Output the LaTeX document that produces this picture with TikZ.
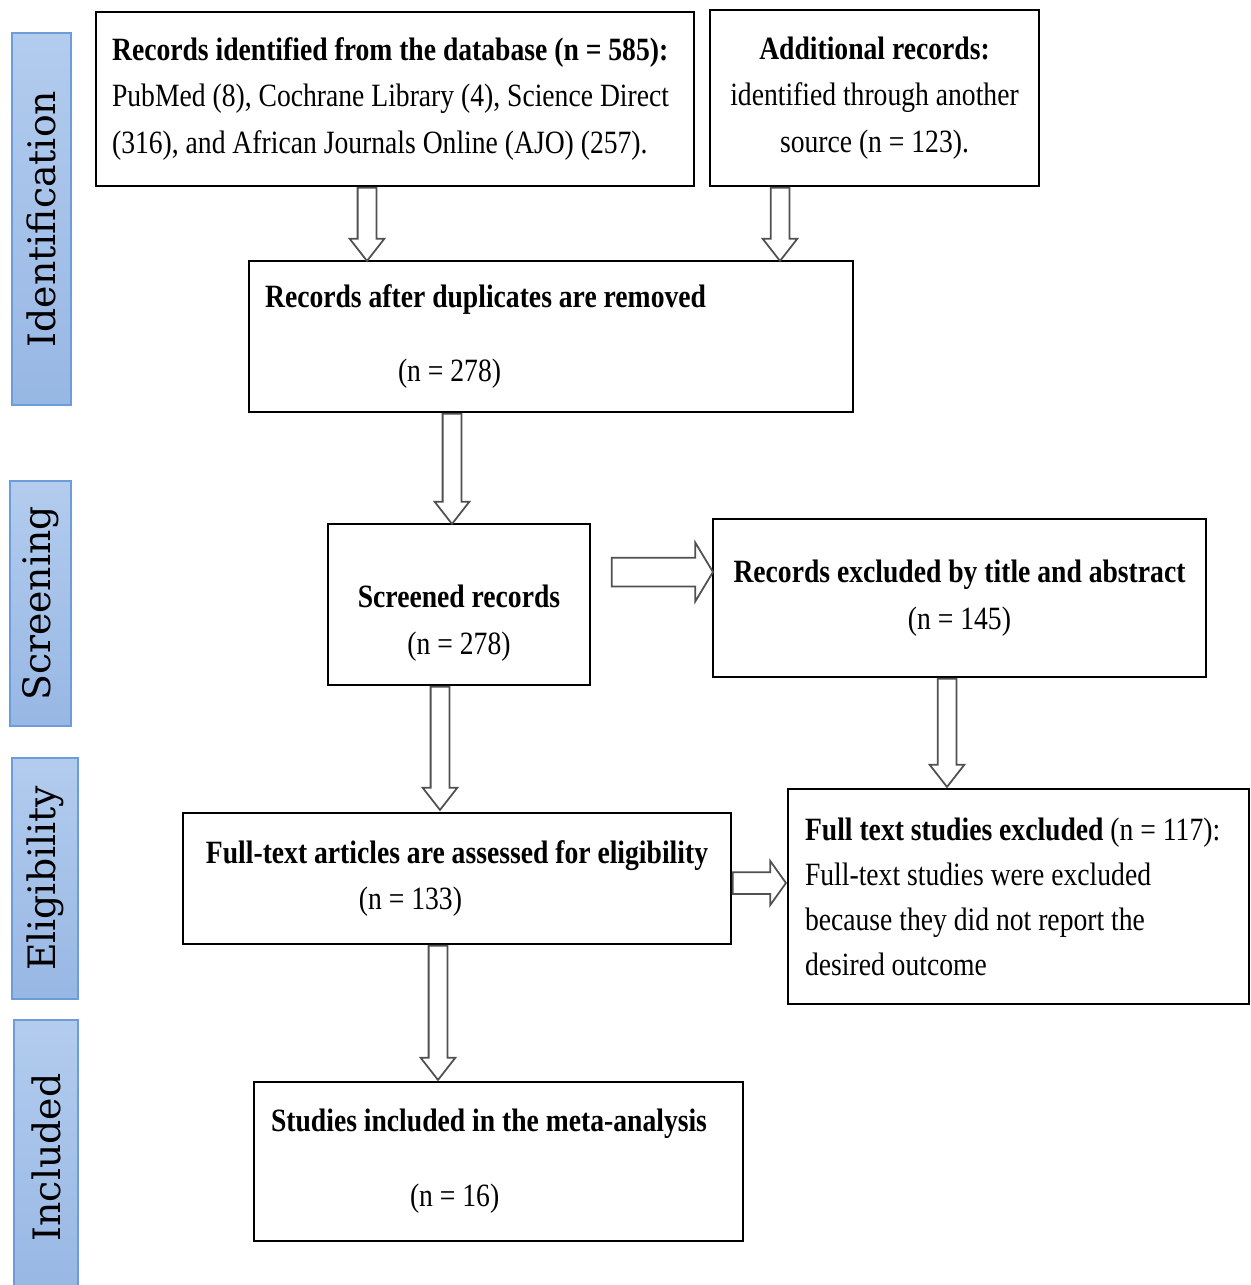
\documentclass[tikz,border=0pt]{standalone}
\usepackage{fontspec}
\setmainfont[FakeStretch=0.85]{Liberation Serif}
\newfontfamily\phasefont{DejaVu Serif}
\usetikzlibrary{shapes.arrows, calc}
\definecolor{phaselight}{HTML}{B3CCEE}
\definecolor{phasedark}{HTML}{97B7E4}
\definecolor{phaseedge}{HTML}{6C9DDA}
\definecolor{arrowgray}{HTML}{505050}

\newcommand{\boxfont}{\fontsize{18.5}{26.5}\selectfont}

% hollow block arrow from #2 to #3
\newcommand{\blockarrow}[3][]{%
  \path let \p1=(#2), \p2=(#3),
    \n1={veclen(\x2-\x1,\y2-\y1)}, \n2={atan2(\y2-\y1,\x2-\x1)} in
    node[barrow, #1, anchor=tail, rotate=\n2, minimum height=\n1] at (\p1) {};}

\begin{document}
\begin{tikzpicture}[
  x=0.02cm, y=-0.02cm,
  box/.style={draw, line width=1.1pt, font=\boxfont, inner sep=0pt, align=center},
  phase/.style={draw=phaseedge, line width=1.1pt, top color=phaselight, bottom color=phasedark,
    rotate=90, font=\phasefont\fontsize{21.5}{24}\selectfont, inner sep=0pt},
  barrow/.style={single arrow, draw=arrowgray, fill=white, line width=1pt,
    inner xsep=0pt, inner ysep=0.17cm, single arrow head extend=0.16cm, single arrow tip angle=76},
]

\useasboundingbox (0,0) rectangle (1251,1285);

% ============ Phase bars ============
\node[phase, minimum width=7.44cm, minimum height=1.18cm] (idf) at (41.5,219) {Identification};
\node[phase, minimum width=4.90cm, minimum height=1.22cm] (scrn) at (40.5,603.5) {Screening};
\node[phase, minimum width=4.82cm, minimum height=1.32cm] (elig) at (45,878.5) {Eligibility};
\node[phase, minimum width=5.50cm, minimum height=1.28cm] (incb) at (46,1157.5) {Included};

% ============ Identification ============
\node[box, minimum width=11.96cm, minimum height=3.48cm, text width=11.32cm, align=flush left] (db) at (395,99)
  {\textbf{Records identified from the database (n = 585):}\\
   PubMed (8), Cochrane Library (4), Science Direct\\
   (316), and African Journals Online (AJO) (257).};
\node[box, minimum width=6.58cm, minimum height=3.52cm] (add) at (874.5,98)
  {\textbf{Additional records:}\\ identified through another\\ source (n = 123).};
\node[box, minimum width=12.08cm, minimum height=3.02cm, text width=11.44cm, align=flush left] (dup) at (551,336.5)
  {\textbf{Records after duplicates are removed}\\[16pt]
   \hspace*{2.66cm}(n = 278)};

% ============ Screening ============
\node[box, minimum width=5.24cm, minimum height=3.22cm] (scr) at (459,604.5)
  {\rule{0pt}{34pt}\textbf{Screened records}\\ (n = 278)};
\node[box, minimum width=9.86cm, minimum height=3.16cm] (excl) at (959.5,598)
  {\textbf{Records excluded by title and abstract}\\ (n = 145)};

% ============ Eligibility ============
\node[box, minimum width=10.96cm, minimum height=2.62cm, align=left] (full) at (457,878.5)
  {\textbf{Full-text articles are assessed for eligibility}\\
   \hspace*{3.06cm}(n = 133)};
\node[box, minimum width=9.22cm, minimum height=4.30cm, text width=8.54cm, align=flush left,
  font=\fontsize{18.5}{25.6}\selectfont] (ftex) at (1018.5,896.5)
  {\textbf{Full text studies excluded} (n = 117):\\
   Full-text studies were excluded\\
   because they did not report the\\
   desired outcome};

% ============ Included ============
\node[box, minimum width=9.78cm, minimum height=3.18cm, text width=9.10cm, align=flush left] (incl) at (498.5,1161.5)
  {\textbf{Studies included in the meta-analysis}\\[16pt]
   \hspace*{2.78cm}(n = 16)};

% ============ Arrows ============
\blockarrow{$(db.south)+(-28,0)$}{$(dup.north)+(-184,0)$}
\blockarrow{$(add.south)+(-94.5,0)$}{$(dup.north)+(229,0)$}
\blockarrow{$(dup.south)+(-99,0)$}{$(scr.north)+(-7,0)$}
\blockarrow{$(scr.south)+(-19,0)$}{$(full.north)+(-17,-3)$}
\blockarrow{$(full.south)+(-19,0)$}{$(incl.north)+(-60.5,-2)$}
\blockarrow{$(excl.south)+(-12.5,0)$}{$(ftex.north)+(-71.5,-2)$}
\blockarrow[inner ysep=0.27cm, single arrow head extend=0.3cm, single arrow tip angle=118]
  {$(scr.east)+(20,-32.5)$}{$(excl.west)+(0,-26)$}
\blockarrow[inner ysep=0.2cm, single arrow head extend=0.22cm, single arrow tip angle=109]
  {$(full.east)+(0,4.5)$}{$(ftex.west)+(-2,-13.5)$}

\end{tikzpicture}
\end{document}
